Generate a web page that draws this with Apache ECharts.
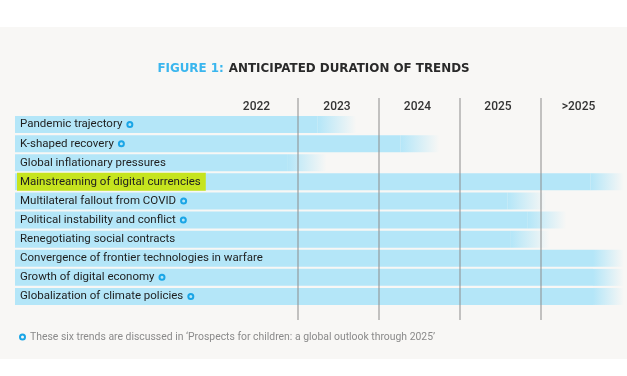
<!DOCTYPE html>
<html>
<head>
<meta charset="utf-8">
<script src="https://cdn.jsdelivr.net/npm/echarts@6/dist/echarts.min.js"></script>
<style>
  html, body { margin: 0; padding: 0; background: #ffffff; }
  #chart { width: 627px; height: 376px; }
</style>
</head>
<body>
<div id="chart"></div>
<script>
// ---- Data ----
const categories = [
  'Pandemic trajectory',
  'K-shaped recovery',
  'Global inflationary pressures',
  'Mainstreaming of digital currencies',
  'Multilateral fallout from COVID',
  'Political instability and conflict',
  'Renegotiating social contracts',
  'Convergence of frontier technologies in warfare',
  'Growth of digital economy',
  'Globalization of climate policies'
];
// year position where each trend's solid bar ends (before fading out)
const solidEnd = [2023.26, 2024.29, 2022.89, 2026.65, 2025.62, 2025.87, 2025.66, 2026.68, 2026.68, 2026.68];
// trends marked with a ring (discussed in the outlook report)
const hasRing = [true, true, false, false, true, true, false, false, true, true];
const highlighted = [false, false, false, true, false, false, false, false, false, false];
const yearLabels = ['2022', '2023', '2024', '2025', '>2025'];
const yearLabelPositions = [2022.5, 2023.5, 2024.5, 2025.5, 2026.5];
const yearBoundaries = [2023, 2024, 2025, 2026];
const fadeSpan = 0.48;
const footnote = "These six trends are discussed in \u2018Prospects for children: a global outlook through 2025\u2019";
const titlePrefix = 'FIGURE 1:';
const titleMain = 'ANTICIPATED DURATION OF TRENDS';

// ---- Style ----
const BAR = '#b4e6f8';
const RING = '#1aa5e6';
const XMIN = 2019.5, XMAX = 2027.065;
const FONT = 'Roboto';

const chart = echarts.init(document.getElementById('chart'));

const ringStyle = {
  width: 5, height: 5, borderWidth: 2, borderColor: RING, borderRadius: 5, verticalAlign: 'middle'
};

chart.setOption({
  backgroundColor: '#ffffff',
  animation: false,
  graphic: {
    elements: [{
      type: 'rect', z: -100, silent: true,
      shape: { x: 0, y: 27, width: 627, height: 332 },
      style: { fill: '#f8f7f5' }
    }]
  },
  title: [{
    text: '{b|' + titlePrefix + '} {k|' + titleMain + '}',
    left: 'center', top: 55,
    textStyle: {
      rich: {
        b: { color: '#3ab6ee', fontSize: 11.9, fontWeight: 'bold', fontFamily: 'DejaVu Sans' },
        k: { color: '#2a2a2a', fontSize: 11.9, fontWeight: 'bold', fontFamily: 'DejaVu Sans' }
      }
    }
  }, {
    text: '{r|}{t|' + footnote + '}',
    left: 15, top: 327,
    textStyle: {
      fontWeight: 'normal',
      rich: {
        r: ringStyle,
        t: { color: '#8a8a8a', fontSize: 10.4, fontWeight: 'normal', fontFamily: FONT, padding: [0, 0, 0, 5] }
      }
    }
  }],
  grid: [
    { left: 15, right: 0, top: 115, bottom: 70 },
    { left: 15, right: 0, top: 98, bottom: 56 }
  ],
  xAxis: [{
    gridIndex: 0, type: 'value', position: 'top',
    min: XMIN, max: XMAX, interval: 0.5,
    axisLine: { show: false }, axisTick: { show: false }, splitLine: { show: false },
    axisLabel: {
      margin: 2, color: '#333333', fontSize: 12, fontWeight: 500, fontFamily: FONT,
      formatter: function (v) {
        for (let i = 0; i < yearLabelPositions.length; i++) {
          if (Math.abs(v - yearLabelPositions[i]) < 1e-6) return yearLabels[i];
        }
        return '';
      }
    }
  }, {
    gridIndex: 1, type: 'value', min: XMIN, max: XMAX, show: false
  }],
  yAxis: [{
    gridIndex: 0, type: 'category', data: categories, inverse: true, z: 10,
    axisLine: { show: false }, axisTick: { show: false }, splitLine: { show: false },
    axisLabel: {
      inside: true, margin: 2,
      formatter: function (v, idx) {
        if (highlighted[idx]) return '{h|' + v + '}';
        return '{t|' + v + '}' + (hasRing[idx] ? '{s|}{r|}' : '');
      },
      rich: {
        t: { color: '#1e1e1e', fontSize: 11.5, fontFamily: FONT, padding: [0, 0, 0, 3] },
        h: { color: '#1e1e1e', fontSize: 11.5, fontFamily: FONT, backgroundColor: '#c6e41e', padding: [3, 5, 3, 3] },
        s: { width: 5 },
        r: ringStyle
      }
    }
  }, {
    gridIndex: 1, type: 'value', min: 0, max: 1, show: false
  }],
  series: [{
    type: 'bar', xAxisIndex: 0, yAxisIndex: 0, stack: 'dur',
    data: solidEnd, barWidth: 17, z: 2,
    itemStyle: { color: BAR }
  }, {
    type: 'bar', xAxisIndex: 0, yAxisIndex: 0, stack: 'dur',
    data: solidEnd.map(function () { return fadeSpan; }), barWidth: 17, z: 2,
    itemStyle: {
      color: new echarts.graphic.LinearGradient(0, 0, 1, 0, [
        { offset: 0, color: BAR },
        { offset: 1, color: 'rgba(180,230,248,0)' }
      ])
    }
  }, {
    type: 'scatter', xAxisIndex: 1, yAxisIndex: 1, z: 8,
    data: [[yearBoundaries[0], 0.5]], symbolSize: 0, silent: true,
    markLine: {
      silent: true, symbol: ['none', 'none'], z: 8,
      label: { show: false },
      lineStyle: { color: 'rgba(140,140,140,0.5)', width: 2, type: 'solid' },
      data: yearBoundaries.map(function (y) { return { xAxis: y }; })
    }
  }]
});
</script>
</body>
</html>
